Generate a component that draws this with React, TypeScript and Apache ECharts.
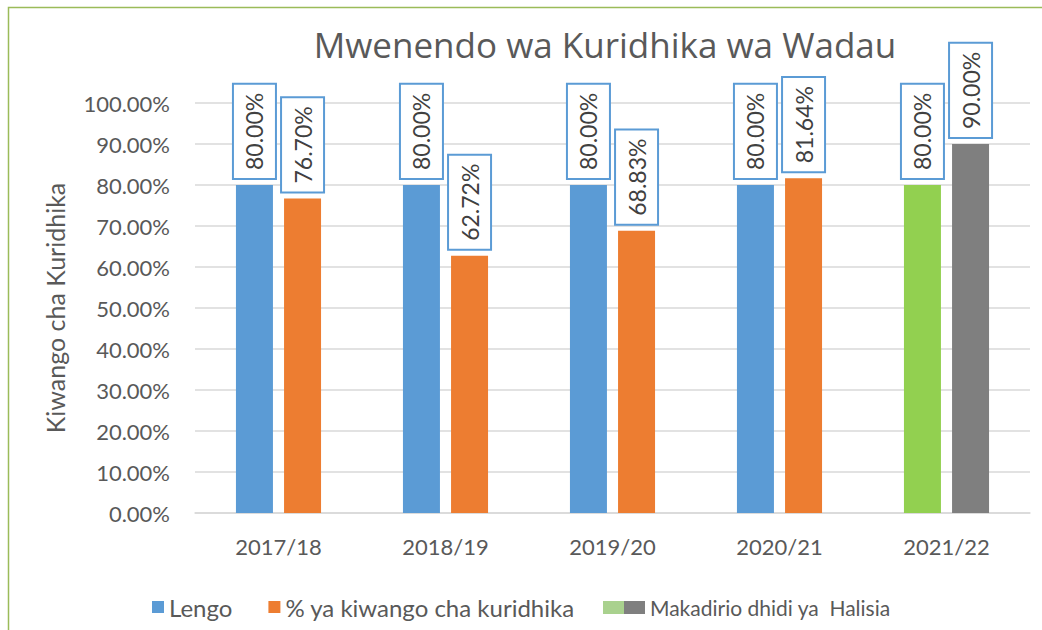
import React, { useEffect, useRef } from "react";
import * as echarts from "echarts";

const categories = ["2017/18", "2018/19", "2019/20", "2020/21", "2021/22"];
const lengo = [80.0, 80.0, 80.0, 80.0, 80.0];
const kuridhika = [76.7, 62.72, 68.83, 81.64, 90.0];
const seriesNames = ["Lengo", "% ya kiwango cha kuridhika", "Makadirio dhidi ya  Halisia"];
const titleText = "Mwenendo wa Kuridhika wa Wadau";
const yAxisName = "Kiwango cha Kuridhika";

const BLUE = "#5B9BD5";
const ORANGE = "#ED7D31";
const GREEN = "#92D050";
const GREEN_LEGEND = "#A9D18E";
const GRAY = "#7F7F7F";
const FONT = "Lato, 'Noto Sans', sans-serif";

export default function App() {
  const ref = useRef<HTMLDivElement>(null);
  useEffect(() => {
    const chart = echarts.init(ref.current!, null, { renderer: "svg" });
    const fmt = (v: number) => v.toFixed(2) + "%";
    const label = {
      show: true,
      position: "top",
      distance: 7,
      rotate: 90,
      align: "left",
      verticalAlign: "middle",
      formatter: (p: any) => fmt(p.value as number),
      fontFamily: FONT,
      fontSize: 23,
      lineHeight: 27,
      color: "#404040",
      backgroundColor: "#FFFFFF",
      borderColor: BLUE,
      borderWidth: 2,
      padding: [7, 8],
    };
    const lastIdx = categories.length - 1;
    chart.setOption({
      animation: false,
      title: {
        text: titleText,
        left: 600,
        textAlign: "center",
        top: 22,
        textStyle: { fontFamily: "'Open Sans', sans-serif", fontSize: 35, fontWeight: "normal", color: "#595959" },
      },
      graphic: [
        {
          type: "rect",
          shape: { x: 8.5, y: 7.5, width: 1100, height: 700 },
          style: { fill: "none", stroke: "#9BBB59", lineWidth: 1.5 },
          silent: true,
        },
      ],
      legend: [
        {
          data: [seriesNames[0], seriesNames[1]],
          left: 147,
          top: 590,
          itemWidth: 12,
          itemHeight: 12,
          itemGap: 36,
          icon: "rect",
          textStyle: { fontFamily: FONT, fontSize: 24, color: "#595959" },
        },
        {
          data: [
            {
              name: seriesNames[2],
              icon: "rect",
              itemStyle: {
                color: new echarts.graphic.LinearGradient(0, 0, 1, 0, [
                  { offset: 0, color: GREEN_LEGEND },
                  { offset: 0.5, color: GREEN_LEGEND },
                  { offset: 0.5, color: GRAY },
                  { offset: 1, color: GRAY },
                ]),
              },
            },
          ],
          left: 598,
          top: 592,
          itemWidth: 42,
          itemHeight: 13,
          textStyle: { fontFamily: FONT, fontSize: 21, color: "#595959" },
        },
      ],
      grid: { left: 195, right: 12, top: 103, bottom: 117 },
      xAxis: {
        type: "category",
        data: categories,
        axisLine: { lineStyle: { color: "#D9D9D9", width: 1.5 } },
        axisTick: { show: false },
        axisLabel: { fontFamily: FONT, fontSize: 22, color: "#595959", margin: 22 },
      },
      yAxis: {
        type: "value",
        min: 0,
        max: 100,
        interval: 10,
        name: yAxisName,
        nameLocation: "middle",
        nameGap: 128,
        nameRotate: 90,
        nameTextStyle: { fontFamily: FONT, fontSize: 25, color: "#595959" },
        axisLine: { show: false },
        axisTick: { show: false },
        splitLine: { lineStyle: { color: "#D9D9D9", width: 1.5 } },
        axisLabel: { fontFamily: FONT, fontSize: 22, color: "#595959", margin: 25, formatter: fmt },
      },
      series: [
        {
          name: seriesNames[0],
          type: "bar",
          barWidth: 37,
          barGap: "30%",
          itemStyle: { color: BLUE },
          label,
          data: lengo.map((v, i) => (i === lastIdx ? { value: v, itemStyle: { color: GREEN } } : v)),
        },
        {
          name: seriesNames[1],
          type: "bar",
          barWidth: 37,
          barGap: "30%",
          itemStyle: { color: ORANGE },
          label,
          data: kuridhika.map((v, i) => (i === lastIdx ? { value: v, itemStyle: { color: GRAY } } : v)),
        },
        {
          name: seriesNames[2],
          type: "line",
          showSymbol: false,
          itemStyle: { color: GRAY },
          lineStyle: { width: 0 },
          data: [],
        },
      ],
    });
    return () => chart.dispose();
  }, []);
  return <div ref={ref} style={{ position: "absolute", left: 0, top: 0, width: 1042, height: 630 }} />;
}
